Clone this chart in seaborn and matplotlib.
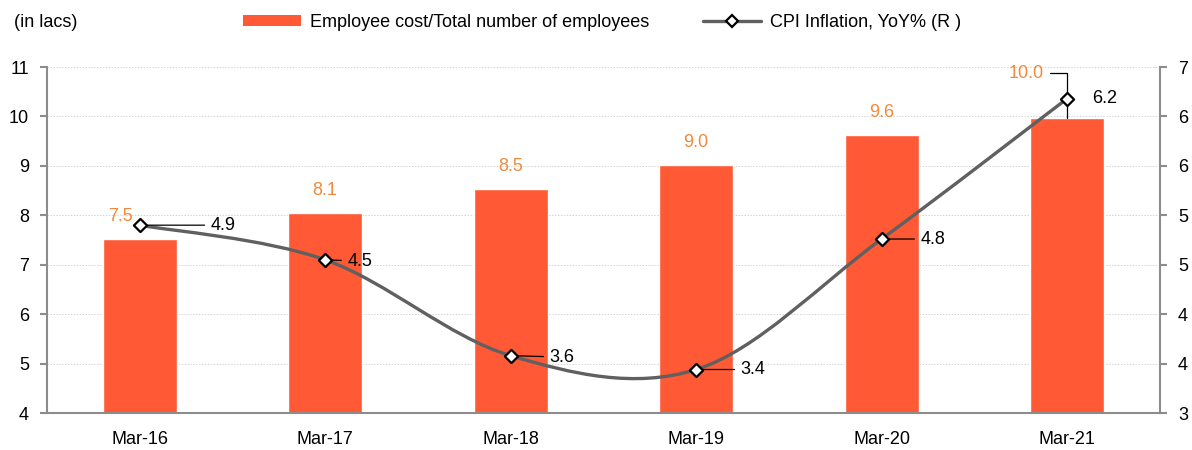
import numpy as np
import pandas as pd
import matplotlib
matplotlib.use("Agg")
import matplotlib.pyplot as plt
from matplotlib.path import Path
from matplotlib.patches import PathPatch, Patch
from matplotlib.lines import Line2D
from matplotlib.ticker import FixedLocator, FuncFormatter
import seaborn as sns

# dane
periods = ["Mar-16", "Mar-17", "Mar-18", "Mar-19", "Mar-20", "Mar-21"]
emp_cost = [7.52, 8.05, 8.53, 9.02, 9.62, 9.97]
emp_labels = ["7.5", "8.1", "8.5", "9.0", "9.6", "10.0"]
cpi = [4.90, 4.55, 3.58, 3.44, 4.76, 6.18]
cpi_labels = ["4.9", "4.5", "3.6", "3.4", "4.8", "6.2"]

bar_color = "#FF5A35"
lab_color = "#F08A3C"
line_color = "#606060"
axis_color = "#8C8C8C"

sns.set_style("white")
plt.rcParams["font.family"] = ["Liberation Sans", "DejaVu Sans"]
plt.rcParams["font.size"] = 13
plt.rcParams["text.color"] = "black"
plt.rcParams["xtick.color"] = "black"
plt.rcParams["ytick.color"] = "black"

df = pd.DataFrame({"period": periods, "cost": emp_cost})

fig = plt.figure(figsize=(11.92, 4.5), dpi=100)
ax = fig.add_axes([0.0394, 0.0822, 0.9336, 0.7689])

sns.barplot(data=df, x="period", y="cost", color=bar_color, width=0.4,
            saturation=1, ax=ax, zorder=2)
ax.set_xlim(-0.5, 5.5)
ax.set_ylim(4, 11)
ax.set_yticks(range(4, 12))
ax.set_xlabel("")
ax.set_ylabel("")
ax.yaxis.grid(True, color="#D4D4D4", linestyle=(0, (1.5, 1.5)), linewidth=0.7)
ax.set_axisbelow(True)

# osie
for side in ["top", "right"]:
    ax.spines[side].set_visible(False)
for side in ["left", "bottom"]:
    ax.spines[side].set_color(axis_color)
    ax.spines[side].set_linewidth(1.5)
ax.tick_params(axis="y", length=5, width=1.5, color=axis_color, labelcolor="black",
               pad=8, labelsize=13)
ax.tick_params(axis="x", which="major", length=0, pad=13, labelsize=13, labelcolor="black")
ax.xaxis.set_minor_locator(FixedLocator(np.arange(-0.5, 6, 1)))
ax.tick_params(axis="x", which="minor", length=6, width=1.5, color=axis_color)

# etykiety slupkow
for i, (v, t) in enumerate(zip(emp_cost, emp_labels)):
    if i == 5:
        ax.annotate(t, xy=(i, v), xytext=(-17, 32), textcoords="offset points",
                    ha="right", va="center", color=lab_color, fontsize=13,
                    arrowprops=dict(arrowstyle="-", color="black", lw=0.9,
                                    connectionstyle="angle,angleA=0,angleB=90,rad=0",
                                    shrinkA=2, shrinkB=0))
    else:
        ax.annotate(t, xy=(i, v), xytext=(-14 if i == 0 else 0, 10),
                    textcoords="offset points", ha="center", va="bottom",
                    color=lab_color, fontsize=13)

# prawa os - inflacja
ax2 = ax.twinx()
ax2.set_ylim(3, 6.5)
ax2.set_yticks(np.arange(3, 6.51, 0.5))
ax2.yaxis.set_major_formatter(FuncFormatter(lambda v, p: "%d" % int(v + 0.5)))
for side in ["top", "left", "bottom"]:
    ax2.spines[side].set_visible(False)
ax2.spines["right"].set_color(axis_color)
ax2.spines["right"].set_linewidth(1.5)
ax2.tick_params(axis="y", length=5, width=1.5, color=axis_color, labelcolor="black",
                pad=8, labelsize=13)

# wygladzona linia (krzywe Beziera jak w Excelu)
xs = np.arange(len(cpi), dtype=float)
pts = np.column_stack([xs, cpi])
verts = [tuple(pts[0])]
codes = [Path.MOVETO]
for i in range(len(pts) - 1):
    p0 = pts[max(i - 1, 0)]
    p1 = pts[i]
    p2 = pts[i + 1]
    p3 = pts[min(i + 2, len(pts) - 1)]
    c1 = p1 + (p2 - p0) / 6
    c2 = p2 - (p3 - p1) / 6
    verts += [tuple(c1), tuple(c2), tuple(p2)]
    codes += [Path.CURVE4] * 3
ax2.add_patch(PathPatch(Path(verts, codes), facecolor="none", edgecolor=line_color,
                        lw=2.4, zorder=3, capstyle="round"))
sns.scatterplot(x=xs, y=cpi, marker="D", s=45, color="white", edgecolor="black",
                linewidth=1.6, ax=ax2, zorder=4)

# etykiety inflacji
offsets = [(51, 0), (16, -1), (28, -1), (32, 0), (28, 0), (18, 0)]
for i, (v, t) in enumerate(zip(cpi, cpi_labels)):
    dx, dy = offsets[i]
    if i == 5:
        ax2.annotate(t, xy=(i, v), xytext=(dx, dy), textcoords="offset points",
                     ha="left", va="center", fontsize=13)
    else:
        ax2.annotate(t, xy=(i, v), xytext=(dx, dy), textcoords="offset points",
                     ha="left", va="center", fontsize=13,
                     arrowprops=dict(arrowstyle="-", color="black", lw=0.9,
                                     shrinkA=2, shrinkB=3))

# legenda i opis jednostek
fig.text(0.012, 0.95, "(in lacs)", fontsize=13, ha="left", va="center")
handles = [Patch(facecolor=bar_color, edgecolor="none"),
           Line2D([], [], color=line_color, lw=2.4, marker="D", markersize=6,
                  markerfacecolor="white", markeredgecolor="black", markeredgewidth=1.6)]
fig.legend(handles, ["Employee cost/Total number of employees", "CPI Inflation, YoY% (R )"],
           loc="center", bbox_to_anchor=(0.505, 0.95), ncol=2, frameon=False,
           fontsize=13, handlelength=3.2, handleheight=0.6, columnspacing=3.0,
           handletextpad=0.5)

fig.savefig("out.png", dpi=100)
